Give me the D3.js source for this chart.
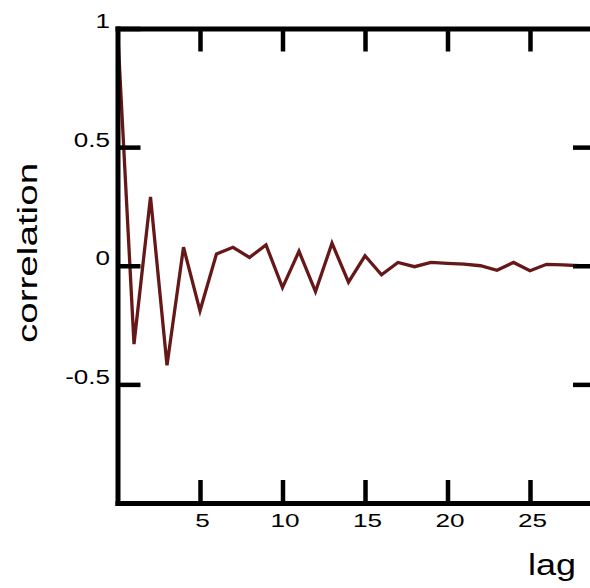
<!DOCTYPE html>
<html>
<head>
<meta charset="utf-8">
<script src="https://cdn.jsdelivr.net/npm/d3@7"></script>
<style>
  body { margin: 0; background: #fff; }
  text { font-family: "Liberation Sans", Arial, sans-serif; }
</style>
</head>
<body>
<div id="acf"></div>
<script>
// autocorrelation values, lag 0..29
const lags = d3.range(0, 30);
const acf = [1, -0.33, 0.29, -0.42, 0.078, -0.19, 0.05, 0.078, 0.035, 0.088,
             -0.092, 0.061, -0.109, 0.095, -0.069, 0.042, -0.038, 0.014, -0.004, 0.014,
             0.01, 0.007, 0, -0.019, 0.014, -0.021, 0.006, 0.004, 0, 0];
const xTicks = [5, 10, 15, 20, 25];
const yTicks = [1, 0.5, 0, -0.5];

let width = 590, height = 588;
let margin = { top: 28.5, bottom: 85, left: 117.5, right: -6 };

let svg = d3.select("#acf")
    .append("svg")
    .attr("width", width)
    .attr("height", height)
    .style("background", "#fff");

let xScale = d3.scaleLinear()
    .domain([0, 29])
    .range([margin.left, width - margin.right]);

let yScale = d3.scaleLinear()
    .domain([-1, 1])
    .range([height - margin.bottom, margin.top]);

// stretch text along its reading direction, the original font is wide
function widen(sel, k) {
    sel.each(function() {
        const len = this.getComputedTextLength();
        d3.select(this)
            .attr("textLength", len * k)
            .attr("lengthAdjust", "spacingAndGlyphs");
    });
}

// data line
const line = d3.line()
    .x((d, i) => xScale(lags[i]))
    .y(d => yScale(d));

svg.append("path")
    .datum(acf)
    .attr("d", line)
    .attr("fill", "none")
    .attr("stroke", "#661818")
    .attr("stroke-width", 3.3)
    .attr("stroke-linejoin", "miter");

function styleAxis(g) {
    g.select(".domain")
        .attr("stroke", "#000")
        .attr("stroke-width", 5)
        .attr("stroke-linecap", "square");
    g.selectAll(".tick line")
        .attr("stroke", "#000")
        .attr("stroke-width", 4.5);
}

// bottom axis
let xAxis = svg.append("g")
    .attr("transform", `translate(0,${yScale(-1)})`)
    .call(d3.axisBottom(xScale).tickValues(xTicks)
        .tickSizeInner(-23).tickSizeOuter(0).tickPadding(11))
    .call(styleAxis);
xAxis.selectAll(".tick text")
    .attr("font-size", 18)
    .attr("font-family", "Liberation Sans, Arial, sans-serif")
    .attr("fill", "#000")
    .attr("x", 2)
    .call(widen, 1.45);

// top axis (no labels)
svg.append("g")
    .attr("transform", `translate(0,${yScale(1)})`)
    .call(d3.axisTop(xScale).tickValues(xTicks).tickFormat("")
        .tickSizeInner(-23).tickSizeOuter(0))
    .call(styleAxis);

// left axis
let yAxis = svg.append("g")
    .attr("transform", `translate(${xScale(0)},0)`)
    .call(d3.axisLeft(yScale).tickValues(yTicks).tickFormat(d => String(d))
        .tickSizeInner(-23).tickSizeOuter(0).tickPadding(7.5))
    .call(styleAxis);
yAxis.selectAll(".tick text")
    .attr("font-size", 20)
    .attr("font-family", "Liberation Sans, Arial, sans-serif")
    .attr("fill", "#000")
    .attr("dy", "-1")
    .call(widen, 1.3);

// right axis (no labels)
svg.append("g")
    .attr("transform", `translate(${xScale(29)},0)`)
    .call(d3.axisRight(yScale).tickValues([0.5, 0, -0.5]).tickFormat("")
        .tickSizeInner(-23).tickSizeOuter(0))
    .call(styleAxis);

// axis labels
svg.append("text")
    .attr("x", 528)
    .attr("y", 575)
    .attr("font-size", 29)
    .attr("fill", "#000")
    .text("lag")
    .call(widen, 1.24);

svg.append("text")
    .attr("transform", "translate(37,253) rotate(-90)")
    .attr("text-anchor", "middle")
    .attr("font-size", 27)
    .attr("fill", "#000")
    .text("correlation")
    .call(widen, 1.43);
</script>
</body>
</html>
